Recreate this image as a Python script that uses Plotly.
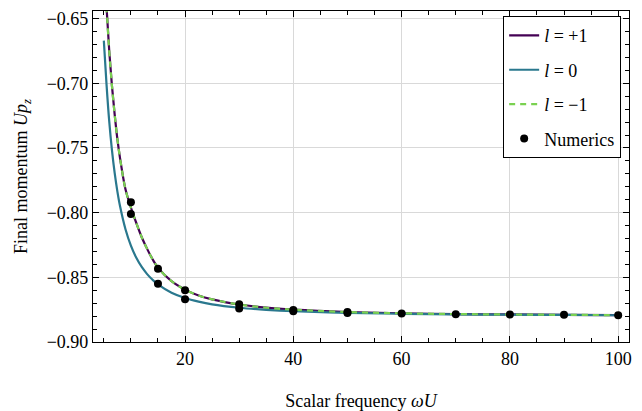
import plotly.graph_objects as go

# Analytic curves: final momentum U p_z versus scalar frequency omega U
freq = [5, 5.5, 6, 6.5, 7, 7.5, 8, 9, 10, 11, 12, 13, 14, 15, 17.5, 20,
        22.5, 25, 30, 35, 40, 50, 60, 70, 80, 90, 100]

pz_l_plus = [-0.598, -0.641, -0.675, -0.702, -0.724, -0.743, -0.758, -0.782,
             -0.796, -0.808, -0.819, -0.828, -0.836, -0.8425, -0.853, -0.8595,
             -0.864, -0.867, -0.871, -0.8735, -0.875, -0.8768, -0.8778,
             -0.8784, -0.8787, -0.879, -0.8792]

pz_l_zero = [-0.667, -0.701, -0.7295, -0.7517, -0.7693, -0.7835, -0.7951,
             -0.8128, -0.8255, -0.8349, -0.842, -0.8475, -0.8519, -0.8555,
             -0.8619, -0.866, -0.8688, -0.8709, -0.8735, -0.8751, -0.8762,
             -0.8775, -0.8782, -0.8786, -0.8789, -0.8791, -0.8793]

pz_l_minus = list(pz_l_plus)

# Numerical results
num_freq = [10, 10, 15, 15, 20, 20, 30, 30, 40, 40, 50, 50, 60, 70, 80, 90, 100]
num_pz = [-0.792, -0.801, -0.8433, -0.855, -0.860, -0.867, -0.8708, -0.8741,
          -0.8752, -0.8762, -0.8768, -0.8776, -0.878, -0.8786, -0.8788,
          -0.879, -0.8794]

x_ticks = [20, 40, 60, 80, 100]
y_ticks = [-0.90, -0.85, -0.80, -0.75, -0.70, -0.65]

FONT = "Liberation Serif"

fig = go.Figure()
fig.add_trace(go.Scatter(x=freq, y=pz_l_plus, mode="lines", line_shape="spline",
                         line=dict(color="#440154", width=2.2),
                         name="<i>l</i> = +1", legendgroup="a"))
fig.add_trace(go.Scatter(x=freq, y=pz_l_zero, mode="lines", line_shape="spline",
                         line=dict(color="#2a788e", width=2.2),
                         name="<i>l</i> = 0", legendgroup="b"))
fig.add_trace(go.Scatter(x=freq, y=pz_l_minus, mode="lines", line_shape="spline",
                         line=dict(color="#7ad151", width=2.2, dash="6px,5px"),
                         name="<i>l</i> = −1", legendgroup="c"))
fig.add_trace(go.Scatter(x=num_freq, y=num_pz, mode="markers",
                         marker=dict(color="black", size=8),
                         name="Numerics", legendgroup="d"))

axis_common = dict(
    showline=True, linecolor="black", linewidth=1.2, mirror="allticks",
    ticks="inside", tickcolor="black", tickwidth=1.1, ticklen=6,
    showgrid=True, gridcolor="#d9d9d9", gridwidth=1,
    zeroline=False, automargin=False,
    tickfont=dict(family=FONT, size=18, color="black"),
)

fig.update_xaxes(
    **axis_common, range=[3, 102], tickvals=x_ticks,
    minor=dict(ticks="inside", ticklen=3.5, tickcolor="black", tickwidth=1,
               dtick=5, tick0=0, showgrid=False),
    title=dict(text="Scalar frequency <i>ωU</i>", standoff=26,
               font=dict(family=FONT, size=18, color="black")),
)
fig.update_yaxes(
    **axis_common, range=[-0.90, -0.6441], tickvals=y_ticks, tickformat=".2f",
    minor=dict(ticks="inside", ticklen=3.5, tickcolor="black", tickwidth=1,
               dtick=0.01, tick0=-0.9, showgrid=False),
    title=dict(text="Final momentum <i>Up</i><sub><i>z</i></sub>", standoff=14,
               font=dict(family=FONT, size=18, color="black")),
)

fig.update_layout(
    width=642, height=411,
    margin=dict(l=93, r=13, t=11, b=69),
    paper_bgcolor="white", plot_bgcolor="white",
    font=dict(family=FONT, size=18, color="black"),
    showlegend=True,
    legend=dict(x=0.985, y=0.985, xanchor="right", yanchor="top",
                bgcolor="white", bordercolor="black", borderwidth=1.2,
                traceorder="grouped", tracegroupgap=8,
                font=dict(family=FONT, size=18, color="black")),
)

fig.write_html("out.html")
